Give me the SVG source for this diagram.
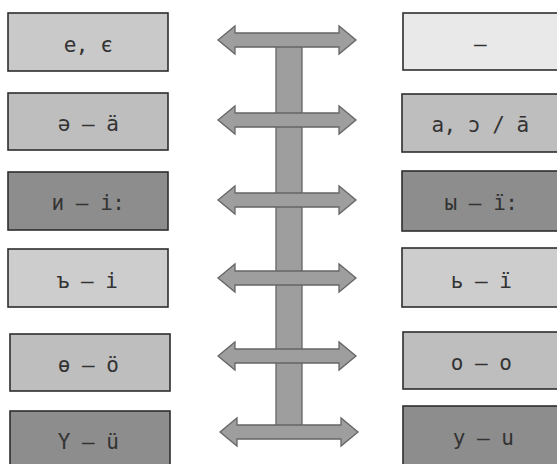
<svg xmlns="http://www.w3.org/2000/svg" width="557" height="464" viewBox="0 0 557 464">
<defs>
<style>
.box{stroke:#2e2e2e;stroke-width:1.6}
.lbl{font-family:"DejaVu Sans Mono","Liberation Mono",monospace;font-size:21px;fill:#333333;text-anchor:middle;letter-spacing:-0.5px}
.arr{fill:#9e9e9e;stroke:#666666;stroke-width:1.3;stroke-linejoin:miter}
.l1{fill:#c9c9c9}.l2{fill:#bebebe}.d{fill:#8d8d8d}.vl{fill:#e9e9e9}.l3{fill:#cdcdcd}
</style>
<path id="dbl" d="M218,0 L235,-14 L235,-7 L339,-7 L339,-14 L356,0 L339,14 L339,7 L235,7 L235,14 Z"/>
</defs>
<rect width="557" height="464" fill="#ffffff"/>
<g id="connectors">
<rect class="arr" x="276" y="46" width="26" height="381"/>
<use href="#dbl" class="arr" transform="translate(0,40)"/>
<use href="#dbl" class="arr" transform="translate(0,120)"/>
<use href="#dbl" class="arr" transform="translate(0,200)"/>
<use href="#dbl" class="arr" transform="translate(0,278)"/>
<use href="#dbl" class="arr" transform="translate(0,356)"/>
<use href="#dbl" class="arr" transform="translate(2,432)"/>
</g>
<g id="left-1"><rect class="box l1" x="8" y="13" width="160" height="58"/><text class="lbl" x="88" y="52">e, є</text></g>
<g id="left-2"><rect class="box l2" x="8" y="93" width="160" height="57"/><text class="lbl" x="88" y="131">ə — ä</text></g>
<g id="left-3"><rect class="box d" x="8" y="172" width="160" height="58"/><text class="lbl" x="88" y="210">и — i:</text></g>
<g id="left-4"><rect class="box l3" x="8" y="249" width="160" height="58"/><text class="lbl" x="87" y="288">ъ — i</text></g>
<g id="left-5"><rect class="box l2" x="10" y="334" width="160" height="57"/><text class="lbl" x="88" y="372">ө — ö</text></g>
<g id="left-6"><rect class="box d" x="10" y="411" width="160" height="60"/><text class="lbl" x="88" y="449">Y — ü</text></g>
<g id="right-1"><rect class="box vl" x="403" y="13" width="160" height="57"/><text class="lbl" x="480" y="51">—</text></g>
<g id="right-2"><rect class="box l2" x="402" y="94" width="160" height="58"/><text class="lbl" x="480" y="132">a, ɔ / ā</text></g>
<g id="right-3"><rect class="box d" x="402" y="171" width="160" height="60"/><text class="lbl" x="481" y="210">ы — ï:</text></g>
<g id="right-4"><rect class="box l3" x="402" y="248" width="160" height="59"/><text class="lbl" x="481" y="288">ь — ï</text></g>
<g id="right-5"><rect class="box l2" x="403" y="332" width="160" height="57"/><text class="lbl" x="481" y="370">o — o</text></g>
<g id="right-6"><rect class="box d" x="403" y="406" width="160" height="65"/><text class="lbl" x="483" y="445">у — u</text></g>
</svg>
